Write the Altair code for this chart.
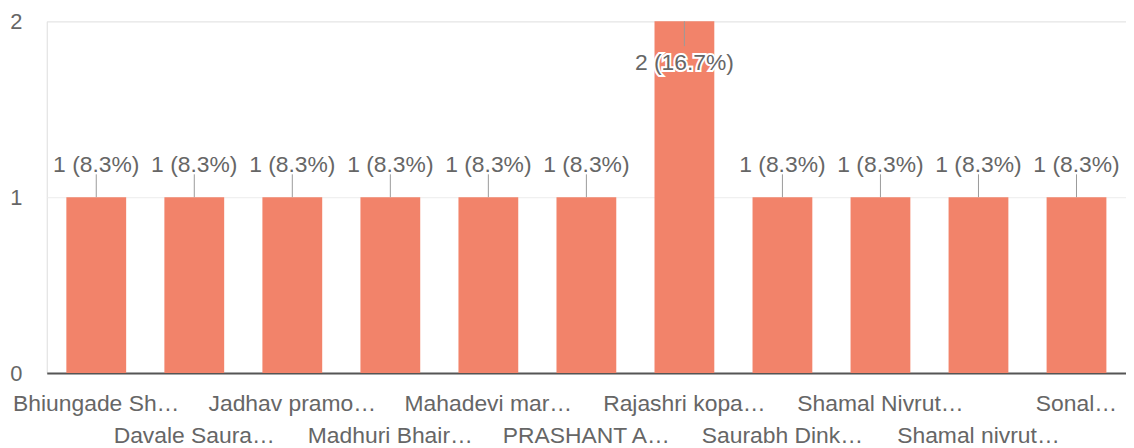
import altair as alt
import pandas as pd

categories = [
    "Bhiungade Sh…", "Davale Saura…", "Jadhav pramo…", "Madhuri Bhair…",
    "Mahadevi mar…", "PRASHANT A…", "Rajashri kopa…", "Saurabh Dink…",
    "Shamal Nivrut…", "Shamal nivrut…", "Sonal…",
]
counts = [1, 1, 1, 1, 1, 1, 2, 1, 1, 1, 1]
y_max = 2

df = pd.DataFrame({"name": categories, "value": counts})

BAR = "#F2836A"
TXT = "#666666"
FONT = "Liberation Sans"
W, H = 1086, 354

base = alt.Chart(df).transform_joinaggregate(
    total="sum(value)", maxv="max(value)"
).transform_calculate(
    label="datum.value + ' (' + format(datum.value / datum.total * 100, '.1f') + '%)'"
).transform_window(
    idx="row_number()"
)

xscale = alt.Scale(paddingInner=0.39, paddingOuter=0.2)
xenc = alt.X(
    "name:N", sort=categories, scale=xscale,
    axis=alt.Axis(labels=False, ticks=False, title=None, domain=True,
                  domainColor="#555555", domainWidth=2, grid=False),
)
yscale = alt.Scale(domain=[0, y_max], nice=False, zero=True)
yenc = alt.Y("value:Q", scale=yscale,
             axis=alt.Axis(tickCount=y_max, tickMinStep=1, title=None, domain=False, ticks=False,
                           grid=True, gridColor="#ececec", gridWidth=1,
                           labelFontSize=22, labelColor=TXT, labelFont=FONT,
                           labelPadding=25, format="d", labelOverlap=False,
                           labelFlush=False, labelBound=False))

bars = base.mark_bar(color=BAR).encode(x=xenc, y=yenc)

low = base.transform_filter("datum.value < datum.maxv")
high = base.transform_filter("datum.value >= datum.maxv")

stem_low = low.mark_rule(color="#9a9a9a", strokeWidth=1, y2Offset=-23).encode(
    x=xenc, y=yenc, y2="value:Q"
)
stem_high = high.mark_rule(color="#9a9a9a", strokeWidth=1, y2Offset=25).encode(
    x=xenc, y=yenc, y2="value:Q"
)

lab_low = low.mark_text(font=FONT, fontSize=23, color=TXT, baseline="middle", dy=-32).encode(
    x=xenc, y=yenc, text="label:N"
)
lab_high_halo = high.mark_text(font=FONT, fontSize=23, color="white", stroke="white",
                               strokeWidth=4, baseline="middle", dy=42).encode(
    x=xenc, y=yenc, text="label:N"
)
lab_high = high.mark_text(font=FONT, fontSize=23, color=TXT, baseline="middle", dy=42).encode(
    x=xenc, y=yenc, text="label:N"
)

cat_row1 = base.transform_filter("datum.idx % 2 == 1").mark_text(
    font=FONT, fontSize=23, color=TXT, baseline="middle"
).encode(x=xenc, y=alt.value(H + 31), text="name:N")
cat_row2 = base.transform_filter("datum.idx % 2 == 0").mark_text(
    font=FONT, fontSize=23, color=TXT, baseline="middle"
).encode(x=xenc, y=alt.value(H + 63), text="name:N")

chart = alt.layer(
    bars, stem_low, stem_high, lab_low, lab_high_halo, lab_high, cat_row1, cat_row2
).properties(
    width=W, height=H,
    autosize=alt.AutoSizeParams(type="none"),
    padding={"left": 39, "top": 12, "right": 0, "bottom": 74},
).configure_view(stroke=None).configure(background="white")

chart.save("out.html", embed_options={"renderer": "svg", "actions": False})
